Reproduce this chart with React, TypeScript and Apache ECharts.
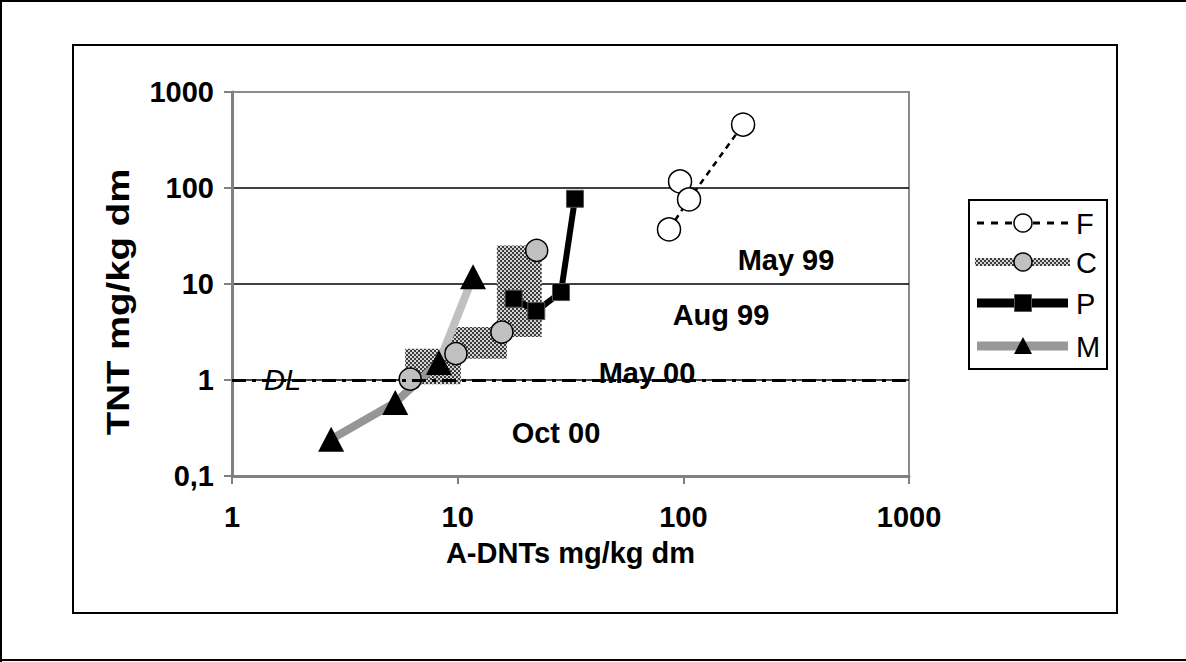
import React, { useEffect, useRef } from "react";
import * as echarts from "echarts";

// ---- data ----
const seriesNames = ["F", "C", "P", "M"];

// F : white circles, dashed line
const fX = [86.4, 96.7, 106, 184];
const fY = [37, 117, 76, 458];
const fLineIdx = [0, 2, 3]; // points joined by the dashed line

// C : grey circles, checkered line
const cX = [6.16, 9.82, 15.7, 22.4];
const cY = [1.02, 1.88, 3.16, 22.4];

// P : black squares, thick black line
const pX = [17.7, 22.3, 28.7, 33.1];
const pY = [7.03, 5.22, 8.24, 77.2];

// M : black triangles, grey line
const mX = [2.75, 5.29, 8.26, 11.7];
const mY = [0.241, 0.582, 1.52, 11.9];

const xTicks = [1, 10, 100, 1000];
const yTicks = [0.1, 1, 10, 100, 1000];
const detectionLimit = 1;
const periodLabels = ["May 99", "Aug 99", "May 00", "Oct 00"];
const xTitle = "A-DNTs mg/kg dm";
const yTitle = "TNT mg/kg dm";

const FONT = "'Liberation Sans', Arial, sans-serif";

const pts = (xs: number[], ys: number[]) => xs.map((x, i) => [x, ys[i]]);

export default function App() {
  const ref = useRef<HTMLDivElement>(null);

  useEffect(() => {
    if (!ref.current) return;
    const chart = echarts.init(ref.current, undefined, { renderer: "svg" });

    const cv = document.createElement("canvas");
    cv.width = 4;
    cv.height = 4;
    const ctx = cv.getContext("2d")!;
    ctx.fillStyle = "#d4d4d4";
    ctx.fillRect(0, 0, 4, 4);
    ctx.fillStyle = "#3c3c3c";
    ctx.fillRect(0, 0, 2, 2);
    ctx.fillRect(2, 2, 2, 2);
    const pattern: any = {
      image: cv.toDataURL(),
      repeat: "repeat",
      imageWidth: 4,
      imageHeight: 4,
    };

    const cSegments = cX.slice(0, -1).map((x, i) => [x, cY[i], cX[i + 1], cY[i + 1]]);
    const fLine = fLineIdx.map((i) => [fX[i], fY[i]]);
    const mPts = pts(mX, mY);

    const txt = (text: string, x: number, y: number, extra: any = {}, el: any = {}) => ({
      type: "text",
      ...el,
      style: {
        text,
        x,
        y,
        fill: "#000",
        fontSize: 29,
        fontWeight: "bold",
        fontFamily: FONT,
        textAlign: "center",
        textVerticalAlign: "middle",
        ...extra,
      },
    });

    const legendX0 = 977;
    const legendX1 = 1068;
    const legendMid = 1023;
    const legendYs = [223, 262, 303, 346];

    const labelFmt = (v: number) => (v < 1 ? String(v).replace(".", ",") : String(v));

    const option: any = {
      animation: false,
      backgroundColor: "#fff",
      grid: {
        left: 232,
        right: 277,
        top: 92,
        bottom: 186,
        show: true,
        borderColor: "#8c8c8c",
        borderWidth: 2,
      },
      xAxis: {
        type: "log",
        logBase: 10,
        min: xTicks[0],
        max: xTicks[xTicks.length - 1],
        name: xTitle,
        nameLocation: "middle",
        nameGap: 62,
        nameTextStyle: { fontSize: 29, fontWeight: "bold", fontFamily: FONT, color: "#000" },
        axisLine: { lineStyle: { color: "#808080", width: 3 } },
        axisTick: { show: true, length: 8, lineStyle: { color: "#808080", width: 2 } },
        minorTick: { show: false },
        axisLabel: {
          fontSize: 29,
          fontWeight: "bold",
          fontFamily: FONT,
          color: "#000",
          margin: 26,
          formatter: labelFmt,
        },
        splitLine: { show: false },
      },
      yAxis: {
        type: "log",
        logBase: 10,
        min: yTicks[0],
        max: yTicks[yTicks.length - 1],
        axisLine: { lineStyle: { color: "#808080", width: 3 } },
        axisTick: { show: true, length: 8, lineStyle: { color: "#808080", width: 2 } },
        minorTick: { show: false },
        axisLabel: {
          fontSize: 29,
          fontWeight: "bold",
          fontFamily: FONT,
          color: "#000",
          margin: 18,
          formatter: labelFmt,
        },
        splitLine: {
          show: true,
          showMinLine: false,
          showMaxLine: false,
          lineStyle: { color: "#000", width: 1.5 },
        },
      },
      series: [
        {
          name: "C-band",
          type: "custom",
          z: 1,
          dimensions: ["x1", "y1", "x2", "y2"],
          encode: { x: [0, 2], y: [1, 3] },
          data: cSegments,
          renderItem: (params: any, api: any) => {
            const a = api.coord([api.value(0), api.value(1)]);
            const b = api.coord([api.value(2), api.value(3)]);
            const pad = 5;
            const x = Math.min(a[0], b[0]) - pad;
            const y = Math.min(a[1], b[1]) - pad;
            return {
              type: "rect",
              shape: {
                x,
                y,
                width: Math.abs(a[0] - b[0]) + 2 * pad,
                height: Math.abs(a[1] - b[1]) + 2 * pad,
              },
              style: { fill: pattern },
            };
          },
        },
        {
          name: "F-line",
          type: "line",
          z: 2,
          data: fLine,
          symbol: "none",
          lineStyle: { color: "#000", width: 2.5, type: [6, 5] },
          markLine: {
            silent: true,
            symbol: "none",
            label: { show: false },
            lineStyle: { color: "#000", width: 3, type: [14, 6, 4, 6] },
            data: [{ yAxis: detectionLimit }],
          },
        },
        {
          name: "P-line",
          type: "line",
          z: 2,
          data: pts(pX, pY),
          symbol: "none",
          lineStyle: { color: "#000", width: 6 },
        },
        {
          name: "M-line-a",
          type: "line",
          z: 2,
          data: mPts.slice(0, 3),
          symbol: "none",
          lineStyle: { color: "#969696", width: 8 },
        },
        {
          name: "M-line-b",
          type: "line",
          z: 2,
          data: mPts.slice(2),
          symbol: "none",
          lineStyle: { color: "#c0c0c0", width: 8 },
        },
        {
          name: seriesNames[3],
          type: "scatter",
          z: 3,
          data: mPts,
          symbol: "triangle",
          symbolSize: [26, 25],
          itemStyle: { color: "#000", opacity: 1 },
        },
        {
          name: seriesNames[1],
          type: "scatter",
          z: 4,
          data: pts(cX, cY),
          symbol: "circle",
          symbolSize: 22,
          itemStyle: { color: "#c0c0c0", borderColor: "#000", borderWidth: 1.5, opacity: 1 },
        },
        {
          name: seriesNames[2],
          type: "scatter",
          z: 4,
          data: pts(pX, pY),
          symbol: "rect",
          symbolSize: 17,
          itemStyle: { color: "#000", borderColor: "#555", borderWidth: 1, opacity: 1 },
        },
        {
          name: seriesNames[0],
          type: "scatter",
          z: 4,
          data: pts(fX, fY),
          symbol: "circle",
          symbolSize: 23,
          itemStyle: { color: "#fff", borderColor: "#000", borderWidth: 1.5, opacity: 1 },
        },
      ],
      graphic: [
        // outer frame
        { type: "line", shape: { x1: 1, y1: 0, x2: 1, y2: 662 }, style: { stroke: "#000", lineWidth: 2 } },
        { type: "line", shape: { x1: 0, y1: 1, x2: 1186, y2: 1 }, style: { stroke: "#000", lineWidth: 2 } },
        { type: "line", shape: { x1: 0, y1: 660, x2: 1186, y2: 660 }, style: { stroke: "#000", lineWidth: 2 } },
        // chart area frame
        {
          type: "rect",
          shape: { x: 73, y: 45, width: 1044, height: 568 },
          style: { fill: "none", stroke: "#000", lineWidth: 2 },
          z: -1,
        },
        // y axis title (stretched along its length as in the reference)
        txt(yTitle, 0, 0, { fontSize: 32 }, { x: 118, y: 302, rotation: Math.PI / 2, scaleX: 1.2 }),
        // period labels
        txt(periodLabels[0], 786, 260),
        txt(periodLabels[1], 721, 315),
        txt(periodLabels[2], 647, 373),
        txt(periodLabels[3], 556, 433),
        txt("DL", 264, 380, { fontWeight: "normal", fontStyle: "italic", textAlign: "left" }),
        // legend
        {
          type: "rect",
          shape: { x: 969, y: 200, width: 138, height: 169 },
          style: { fill: "#fff", stroke: "#000", lineWidth: 2 },
        },
        {
          type: "line",
          shape: { x1: legendX0, y1: legendYs[0], x2: legendX1, y2: legendYs[0] },
          style: { stroke: "#000", lineWidth: 3, lineDash: [7, 7] },
        },
        {
          type: "circle",
          shape: { cx: legendMid, cy: legendYs[0], r: 9 },
          style: { fill: "#fff", stroke: "#000", lineWidth: 1.5 },
        },
        {
          type: "rect",
          shape: { x: legendX0 - 2, y: legendYs[1] - 4, width: legendX1 - legendX0 + 4, height: 8 },
          style: { fill: pattern },
        },
        {
          type: "circle",
          shape: { cx: legendMid, cy: legendYs[1], r: 9 },
          style: { fill: "#c0c0c0", stroke: "#000", lineWidth: 1.5 },
        },
        {
          type: "rect",
          shape: { x: legendX0, y: legendYs[2] - 4.5, width: legendX1 - legendX0, height: 9 },
          style: { fill: "#000" },
        },
        {
          type: "rect",
          shape: { x: legendMid - 8.5, y: legendYs[2] - 8.5, width: 17, height: 17 },
          style: { fill: "#000", stroke: "#555", lineWidth: 1 },
        },
        {
          type: "rect",
          shape: { x: legendX0, y: legendYs[3] - 4.5, width: legendX1 - legendX0, height: 9 },
          style: { fill: "#999" },
        },
        {
          type: "polygon",
          shape: {
            points: [
              [legendMid, legendYs[3] - 9],
              [legendMid - 9, legendYs[3] + 8],
              [legendMid + 9, legendYs[3] + 8],
            ],
          },
          style: { fill: "#000" },
        },
        ...seriesNames.map((n, i) =>
          txt(n, 1076, legendYs[i] + 1, { fontWeight: "normal", textAlign: "left" })
        ),
      ],
    };

    chart.setOption(option);
    return () => chart.dispose();
  }, []);

  return (
    <div
      ref={ref}
      style={{ position: "absolute", left: 0, top: 0, width: 1186, height: 662, background: "#fff" }}
    />
  );
}
